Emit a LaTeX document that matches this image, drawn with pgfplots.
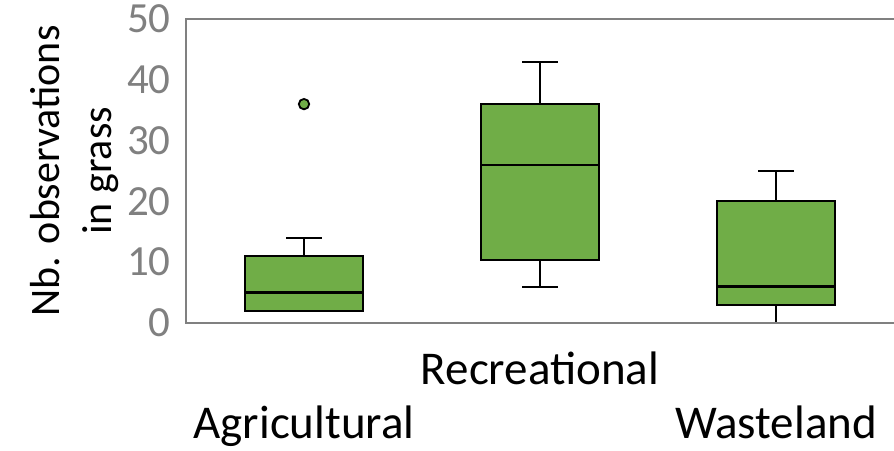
\documentclass[border=0pt]{standalone}
\usepackage{fontspec}
\setmainfont{Carlito}
\usepackage{pgfplots}
\pgfplotsset{compat=1.18}
\usepgfplotslibrary{statistics}
\definecolor{boxgreen}{HTML}{70AD47}
\definecolor{tickgray}{HTML}{808080}
\begin{document}
\begin{tikzpicture}
\begin{axis}[
  name=ax,
  width=354pt, height=152pt, scale only axis,
  xmin=0.5, xmax=3.5, ymin=0, ymax=50,
  xtick={1,2,3},
  xticklabels={Agricultural,\raisebox{27pt}{Recreational},Wasteland},
  ytick={0,10,20,30,40,50},
  major tick length=0pt,
  axis line style={draw=none},
  xticklabel style={font=\fontsize{23.5}{28}\selectfont, anchor=base, yshift=-58pt},
  yticklabel style={font=\fontsize{21.5}{25}\selectfont, text=tickgray, anchor=east, inner sep=0pt, xshift=-7.5pt},
  /pgf/number format/assume math mode=true,
  ylabel={Nb. observations\\in grass},
  ylabel style={font=\fontsize{21}{26}\selectfont, align=center, at={(rel axis cs:-0.158,0.5)}, anchor=center},
  boxplot/draw direction=y,
  boxplot/box extend=0.5,
  boxplot/whisker extend=0.15,
  boxplot/every median/.style={draw=black, line width=1.1pt},
  clip=false,
]
\addplot[boxplot prepared={draw position=1, lower whisker=2, lower quartile=2, median=5, upper quartile=11, upper whisker=14},
  draw=black, fill=boxgreen, line width=1pt, mark=*, mark size=2.6pt,
  mark options={fill=boxgreen, draw=black, line width=0.9pt}] coordinates {(1,36)};
\addplot[boxplot prepared={draw position=2, lower whisker=6, lower quartile=10.4, median=26, upper quartile=36, upper whisker=43},
  draw=black, fill=boxgreen, line width=1pt] coordinates {};
\addplot[boxplot prepared={draw position=3, lower whisker=0, lower quartile=3, median=6, upper quartile=20, upper whisker=25},
  draw=black, fill=boxgreen, line width=1pt] coordinates {};
\end{axis}
\draw[tickgray, line width=0.9pt] (ax.south east) -- (ax.south west) -- (ax.north west) -- (ax.north east);
\pgfresetboundingbox
\useasboundingbox ([xshift=-93pt,yshift=-64pt]ax.south west) rectangle ([yshift=9.5pt]ax.north east);
\end{tikzpicture}
\end{document}
